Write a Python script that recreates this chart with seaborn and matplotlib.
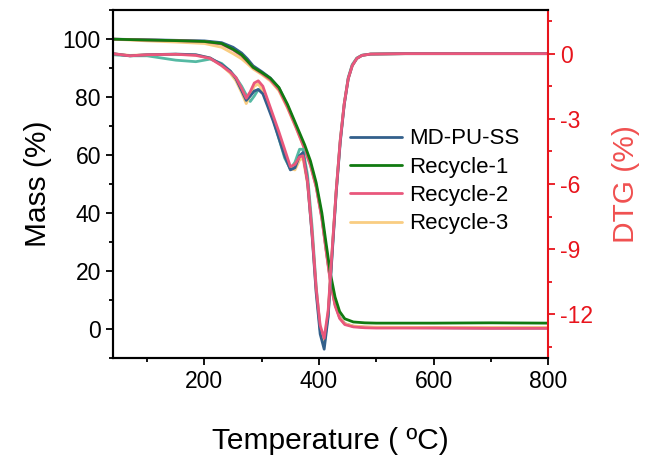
import matplotlib
matplotlib.use("Agg")
import matplotlib.pyplot as plt
from matplotlib.ticker import AutoMinorLocator, MultipleLocator
import seaborn as sns

sns.set_theme(style="ticks")
plt.rcParams["font.family"] = ["Liberation Sans", "DejaVu Sans"]
plt.rcParams["axes.unicode_minus"] = False
plt.rcParams["text.color"] = "black"
plt.rcParams["axes.labelcolor"] = "black"

# TG (mass) curves
t_tg = [40, 100, 150, 200, 230, 250, 265, 275, 285, 300, 315, 330, 345, 360, 375,
        385, 395, 405, 412, 420, 428, 436, 445, 460, 480, 500, 600, 700, 800]
mass_md = [100, 99.8, 99.6, 99.4, 98.8, 97.2, 95.2, 93.2, 90.8, 88.8, 86.6, 83.2, 77, 69.8, 62.5,
           57, 49.5, 38.5, 28, 16.5, 8.5, 4, 1.8, 0.9, 0.6, 0.5, 0.4, 0.3, 0.3]
mass_r1 = [100, 99.7, 99.5, 99.2, 98.5, 96.5, 94.6, 92.5, 90.3, 88.5, 86.5, 83.3, 77.5, 70.5, 63.5,
           58, 50.5, 40, 30, 19, 11, 6, 3.5, 2.4, 2.1, 2.0, 2.0, 2.1, 2.0]
mass_r2 = [100, 99.7, 99.5, 99.2, 98.3, 96.3, 94.3, 92.3, 90.2, 88.2, 86, 82.6, 76.5, 69.5, 62,
           56.5, 49, 38, 27.5, 16, 8, 3.6, 1.5, 0.7, 0.4, 0.3, 0.3, 0.2, 0.2]
mass_r3 = [100, 99.4, 99.0, 98.5, 97.2, 95.0, 93.2, 91.5, 89.7, 87.8, 85.6, 82.2, 76.2, 69.3, 62,
           56.5, 49.2, 38.5, 28, 16.5, 8.4, 3.9, 1.8, 1.0, 0.7, 0.6, 0.5, 0.5, 0.5]

# DTG curves
t_dtg = [40, 70, 100, 150, 185, 210, 230, 245, 255, 265, 273, 280, 287, 294, 302, 310, 320, 330,
         340, 350, 358, 366, 372, 380, 388, 395, 402, 409, 416, 423, 430, 437, 444, 451, 458,
         466, 475, 490, 550, 650, 800]
dtg_md = [0, -0.1, -0.05, -0.02, -0.05, -0.2, -0.5, -0.8, -1.15, -1.7, -2.15, -1.95, -1.72, -1.65,
          -1.85, -2.4, -3.1, -3.9, -4.7, -5.35, -5.25, -4.7, -4.55, -5.9, -8.4, -11.0, -12.9, -13.6,
          -12.1, -9.2, -6.4, -4.1, -2.35, -1.15, -0.55, -0.22, -0.08, -0.02, 0, 0, 0]
dtg_r1 = [-0.05, -0.1, -0.1, -0.3, -0.37, -0.25, -0.45, -0.8, -1.1, -1.5, -1.9, -2.2, -1.95, -1.65,
          -1.7, -2.2, -3.0, -3.9, -4.8, -5.3, -5.0, -4.4, -4.4, -5.6, -8.0, -10.7, -12.7, -13.35,
          -12.0, -9.1, -6.3, -4.0, -2.3, -1.1, -0.5, -0.2, -0.07, -0.02, 0, 0, 0]
dtg_r2 = [0, -0.1, -0.05, -0.03, -0.08, -0.22, -0.55, -0.85, -1.1, -1.6, -2.05, -1.75, -1.35, -1.25,
          -1.5, -2.1, -2.85, -3.6, -4.4, -5.2, -5.1, -4.75, -4.7, -5.9, -8.3, -10.8, -12.5, -13.1,
          -11.8, -9.0, -6.3, -4.0, -2.3, -1.15, -0.55, -0.22, -0.08, -0.02, 0, 0, 0]
dtg_r3 = [0, -0.08, -0.05, -0.03, -0.06, -0.2, -0.55, -0.9, -1.25, -1.8, -2.3, -1.9, -1.5, -1.4,
          -1.7, -2.3, -3.0, -3.8, -4.6, -5.3, -5.35, -4.9, -4.8, -6.0, -8.3, -10.9, -12.6, -13.2,
          -11.9, -9.0, -6.3, -4.0, -2.3, -1.15, -0.55, -0.22, -0.08, -0.02, 0, 0, 0]

labels = ["MD-PU-SS", "Recycle-1", "Recycle-2", "Recycle-3"]
colors = {"MD-PU-SS": "#33608c", "Recycle-1": "#117a11", "Recycle-2": "#e9577c", "Recycle-3": "#f9cd82"}
teal = "#55b9a3"
red = "#e8141c"

fig = plt.figure(figsize=(6.48, 4.63), dpi=100)
ax = fig.add_axes([0.174, 0.227, 0.672, 0.751])
ax2 = ax.twinx()

# DTG on the right axis (draw order: teal, orange, blue, pink)
lw = 2.0
sns.lineplot(x=t_dtg, y=dtg_r1, color=teal, lw=lw, ax=ax2)
sns.lineplot(x=t_dtg, y=dtg_r3, color=colors["Recycle-3"], lw=lw, ax=ax2)
sns.lineplot(x=t_dtg, y=dtg_md, color=colors["MD-PU-SS"], lw=lw, ax=ax2)
sns.lineplot(x=t_dtg, y=dtg_r2, color=colors["Recycle-2"], lw=lw, ax=ax2)

# TG on the left axis
tg = {"MD-PU-SS": mass_md, "Recycle-1": mass_r1, "Recycle-2": mass_r2, "Recycle-3": mass_r3}
handles = {}
for name in ["MD-PU-SS", "Recycle-3", "Recycle-2", "Recycle-1"]:
    sns.lineplot(x=t_tg, y=tg[name], color=colors[name], lw=lw, ax=ax, label=name, legend=False)
    handles[name] = ax.lines[-1]

ax.set_xlim(40, 800)
ax.set_ylim(-10, 110)
ax2.set_ylim(-14, 2)

ax.xaxis.set_major_locator(MultipleLocator(200))
ax.xaxis.set_minor_locator(AutoMinorLocator(2))
ax.yaxis.set_major_locator(MultipleLocator(20))
ax.yaxis.set_minor_locator(AutoMinorLocator(2))
ax2.yaxis.set_major_locator(MultipleLocator(3))
ax2.yaxis.set_minor_locator(AutoMinorLocator(2))

for a in (ax, ax2):
    for s in a.spines.values():
        s.set_linewidth(1.5)
        s.set_color("black")
ax2.spines["right"].set_color(red)
ax.spines["right"].set_visible(False)

ax.tick_params(which="both", direction="out", width=1.3, labelsize=16.5, color="black",
               labelcolor="black", top=False, right=False)
ax.tick_params(which="major", length=5)
ax.tick_params(which="minor", length=3)
ax2.tick_params(axis="y", which="both", direction="out", width=1.3, labelsize=16.5,
                color=red, labelcolor=red)
ax2.tick_params(axis="y", which="major", length=5)
ax2.tick_params(axis="y", which="minor", length=3)

ax.set_xlabel("Temperature ( \u00baC)", fontsize=21.5, labelpad=25)
ax.set_ylabel("Mass (%)", fontsize=21.5, labelpad=8)
ax2.set_ylabel("DTG (%)", fontsize=21.5, color="#f05050", labelpad=14)

ax2.legend([handles[n] for n in labels], labels, loc="upper left", bbox_to_anchor=(0.545, 0.66),
           frameon=False, fontsize=16, borderpad=0, borderaxespad=0, handlelength=2.35,
           handletextpad=0.3, labelspacing=0.33)

fig.savefig("out.png", dpi=100)
